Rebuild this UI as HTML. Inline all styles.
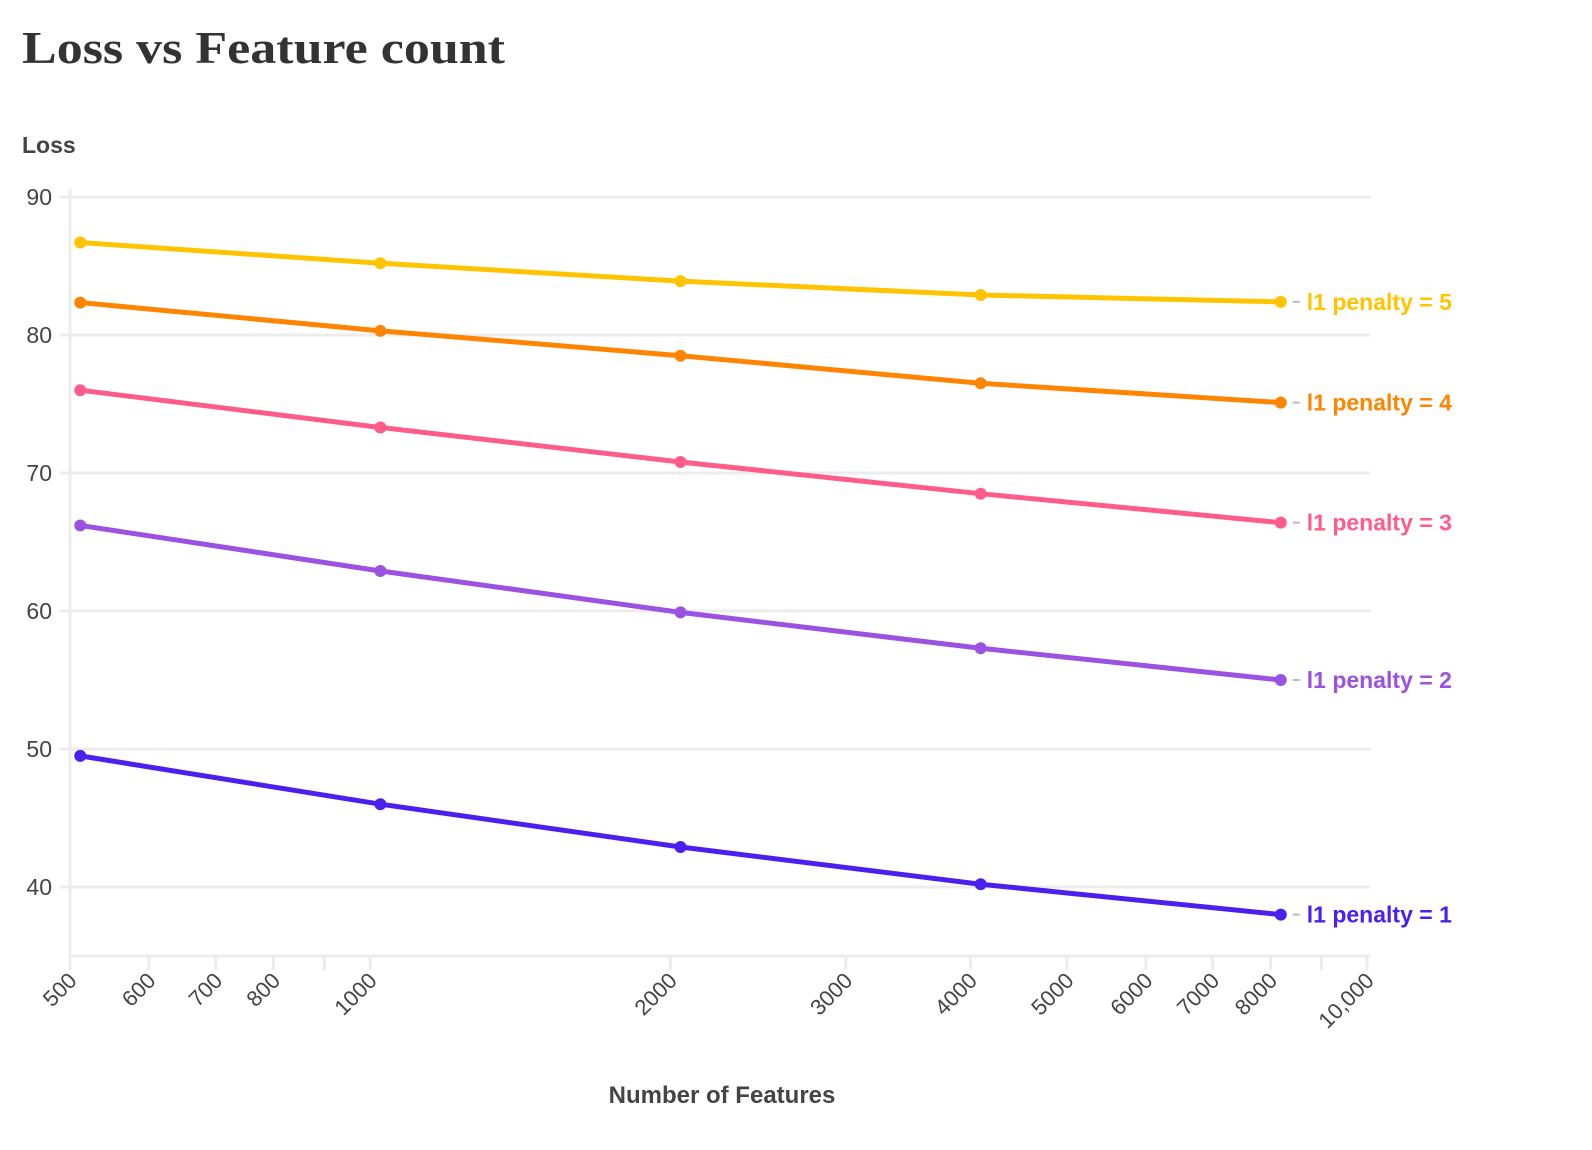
<!DOCTYPE html>
<html><head><meta charset="utf-8">
<style>
html,body{margin:0;padding:0;background:#fff;}
svg{display:block;}
text{font-family:"Liberation Sans",sans-serif;}
</style></head>
<body>
<svg id="chart" width="1592" height="1150" viewBox="0 0 1592 1150">
<text x="22" y="63" style="font-family:'Liberation Serif',serif" font-weight="bold" font-size="46" fill="#333" textLength="483" lengthAdjust="spacingAndGlyphs">Loss vs Feature count</text>
<text x="22" y="153" font-weight="bold" font-size="23" fill="#444">Loss</text>
<text x="722" y="1103" text-anchor="middle" font-weight="bold" font-size="24" fill="#444">Number of Features</text>
<g id="grid"></g><g id="axes"></g><g id="series"></g>
</svg>
<script>
const features=[512,1024,2048,4096,8192];
const seriesNames=["l1 penalty = 1","l1 penalty = 2","l1 penalty = 3","l1 penalty = 4","l1 penalty = 5"];
const loss1=[49.5,46.0,42.9,40.2,38.0];
const loss2=[66.2,62.9,59.9,57.3,55.0];
const loss3=[76.0,73.3,70.8,68.5,66.4];
const loss4=[82.35,80.3,78.5,76.5,75.1];
const loss5=[86.7,85.2,83.9,82.9,82.4];
const yTicks=[40,50,60,70,80,90];
const xTicks=[500,600,700,800,900,1000,2000,3000,4000,5000,6000,7000,8000,9000,10000];
const xLabelVals=[500,600,700,800,1000,2000,3000,4000,5000,6000,7000,8000,10000];
const xLabelText=["500","600","700","800","1000","2000","3000","4000","5000","6000","7000","8000","10,000"];
const colors=["#4B20EE","#9B52E1","#FF5C8A","#FF8500","#FFC300"];

const NS="http://www.w3.org/2000/svg";
const x0=70,dec=997,y40=887,pu=13.8;
function xs(v){return x0+Math.log10(v/500)*dec;}
function ys(v){return y40-(v-40)*pu;}
function mk(tag,attrs,parent){const e=document.createElementNS(NS,tag);for(const k in attrs)e.setAttribute(k,attrs[k]);parent.appendChild(e);return e;}
const grid=document.getElementById('grid'),axes=document.getElementById('axes'),ser=document.getElementById('series');
const xRight=1370,yBottom=ys(35);
yTicks.forEach(t=>{
  const l=mk('line',{x1:x0-10,x2:xRight,y1:ys(t),y2:ys(t),stroke:'#ececec','stroke-width':3},grid);
  
  
  const tx=mk('text',{x:x0-18,y:ys(t)+8,'text-anchor':'end','font-size':23,fill:'#444'},axes);
  tx.textContent=t;
  
  
});
const ya=mk('line',{x1:x0,x2:x0,y1:ys(90.6),y2:yBottom+14,stroke:'#ececec','stroke-width':3},axes);


const xa=mk('line',{x1:x0,x2:xRight,y1:yBottom,y2:yBottom,stroke:'#ececec','stroke-width':3},axes);


xTicks.forEach(t=>{
  const l=mk('line',{x1:xs(t),x2:xs(t),y1:yBottom,y2:yBottom+14,stroke:'#ececec','stroke-width':3},axes);
  
  
});
xLabelVals.forEach((t,i)=>{
  const px=xs(t)+8,py=yBottom+26;
  const tx=mk('text',{x:px,y:py,'text-anchor':'end','font-size':22,fill:'#444',transform:`rotate(-45 ${px} ${py})`},axes);
  tx.textContent=xLabelText[i];
  
  
});
[loss1,loss2,loss3,loss4,loss5].forEach((vals,si)=>{
  const c=colors[si];
  const d=vals.map((v,i)=>(i?'L':'M')+xs(features[i])+','+ys(v)).join(' ');
  const p=mk('path',{d:d,fill:'none',stroke:c,'stroke-width':5,'stroke-linejoin':'round'},ser);
  
  
  vals.forEach((v,i)=>{
    const ci=mk('circle',{cx:xs(features[i]),cy:ys(v),r:6,fill:c},ser);
    
    
  });
  const lx=xs(features[4]),ly=ys(vals[4]);
  const dl=mk('line',{x1:lx+12,x2:lx+19,y1:ly,y2:ly,stroke:'#bbb','stroke-width':2},ser);
  
  
  const tx=mk('text',{x:lx+26,y:ly+8,'font-size':23,'font-weight':'bold',fill:c},ser);
  tx.textContent=seriesNames[si];
  
  
});
</script>
</body></html>
